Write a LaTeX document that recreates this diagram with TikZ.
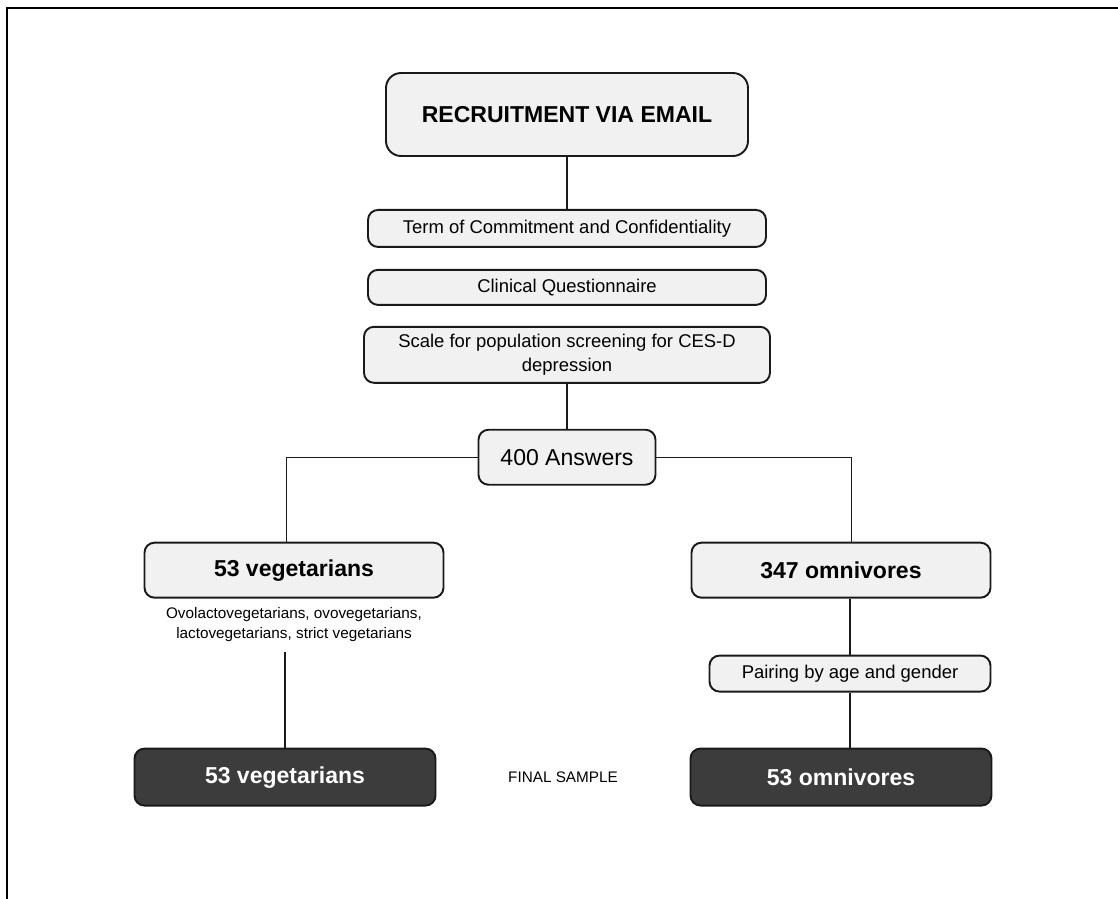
\documentclass[tikz,border=0pt]{standalone}
\usepackage{fontspec}
\setmainfont{Liberation Sans}
\usetikzlibrary{positioning}
\definecolor{boxfill}{HTML}{F1F1F1}
\definecolor{boxdark}{HTML}{3C3C3C}
\definecolor{boxline}{HTML}{1A1A1A}

\begin{document}
\begin{tikzpicture}[
    box/.style={draw=boxline, line width=1.1pt, fill=boxfill, rounded corners=0.2cm,
      inner sep=0pt, align=center, font=\fontsize{10.5}{14}\selectfont},
    bigbox/.style={box, font=\fontsize{13.1}{15}\selectfont\bfseries},
    darkbox/.style={bigbox, fill=boxdark, text=white},
    note/.style={inner sep=0pt, align=center, font=\fontsize{8.7}{11.4}\selectfont},
    link/.style={draw=boxline, line width=0.7pt}
  ]
  \useasboundingbox (0,0) rectangle (22.36,-17.98);
  % frame
  \draw[line width=1.2pt] (0.14,-17.98) |- (22.36,-0.16);

  % Define nodes
  \node[bigbox, rounded corners=0.3cm, minimum width=7.24cm, minimum height=1.66cm] (rec) at (11.34,-2.29) {RECRUITMENT VIA EMAIL};
  \node[box, below=1.04cm of rec, minimum width=7.96cm, minimum height=0.74cm] (term) {Term of Commitment and Confidentiality};
  \node[box, below=0.42cm of term, minimum width=7.96cm, minimum height=0.7cm] (clin) {Clinical Questionnaire};
  \node[box, below=0.4cm of clin, minimum width=8.12cm, minimum height=1.12cm] (scale) {Scale for population screening for CES-D\\depression};
  \node[box, below=0.9cm of scale, minimum width=3.54cm, minimum height=1.1cm, font=\fontsize{13.1}{15}\selectfont] (ans) {400 Answers};
  \node[bigbox, below=1.12cm of ans, xshift=-5.46cm, minimum width=5.98cm, minimum height=1.1cm] (veg) {53 vegetarians};
  \node[bigbox, below=1.12cm of ans, xshift=5.48cm, minimum width=5.98cm, minimum height=1.1cm] (omn) {347 omnivores};
  \node[note, below=0.16cm of veg] (vegtypes) {Ovolactovegetarians, ovovegetarians,\\lactovegetarians, strict vegetarians};
  \node[box, below=1.12cm of omn, xshift=0.18cm, minimum width=5.62cm, minimum height=0.72cm] (pair) {Pairing by age and gender};
  \node[darkbox, below=2.98cm of veg, xshift=-0.18cm, minimum width=6.02cm, minimum height=1.14cm] (vegfinal) {53 vegetarians};
  \node[darkbox, below=1.1cm of pair, xshift=-0.18cm, minimum width=6.02cm, minimum height=1.14cm] (omnfinal) {53 omnivores};
  \path (vegfinal) -- node[note] (final) {FINAL SAMPLE} (omnfinal);

  % Connect the nodes
  \draw[link] (rec) -- (term);
  \draw[link] (scale) -- (ans);
  \draw[link] (ans) -| ([xshift=-0.15cm]veg.north);
  \draw[link] (ans) -| ([xshift=0.21cm]omn.north);
  \draw[link] (pair) -- (pair |- omn.south);
  \draw[link] (pair) -- (pair |- omnfinal.north);
  \draw[link] ([yshift=-0.2cm]vegtypes.south -| vegfinal.north) -- (vegfinal);
\end{tikzpicture}
\end{document}
